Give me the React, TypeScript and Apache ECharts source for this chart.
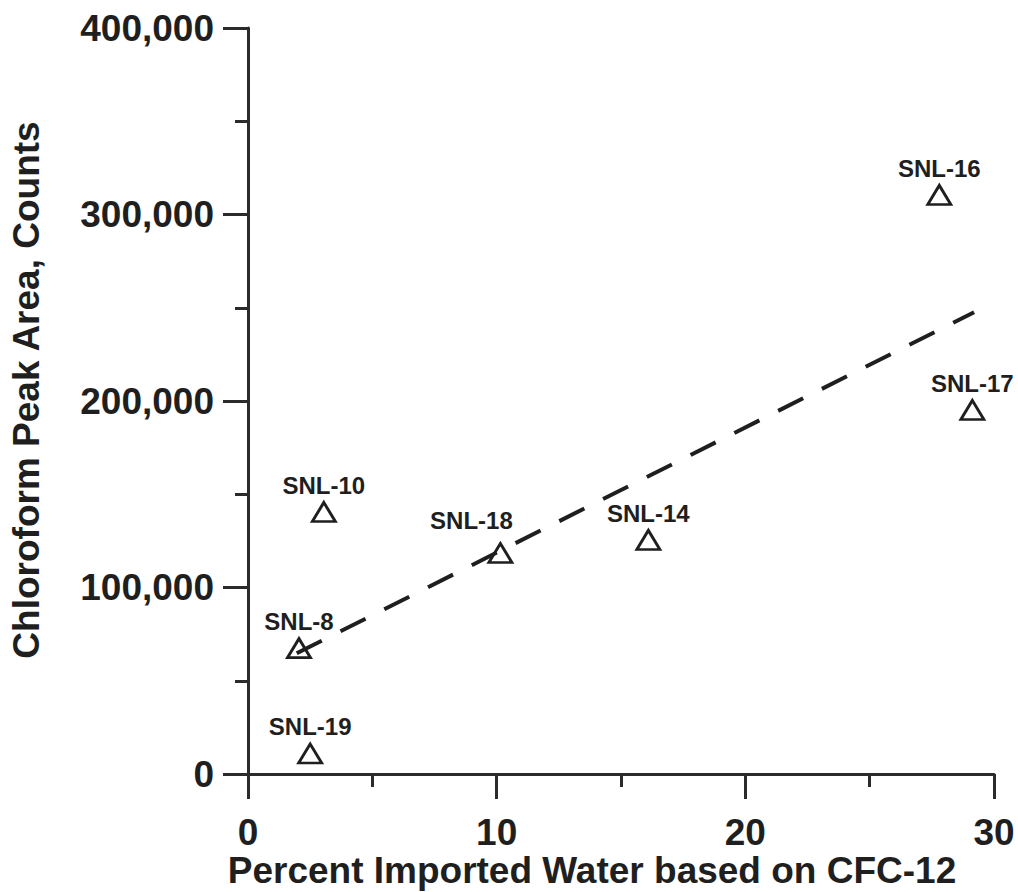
import React, { useEffect, useRef } from "react";
import * as echarts from "echarts";

// ---- data ----
const sampleNames = ["SNL-19", "SNL-8", "SNL-10", "SNL-18", "SNL-14", "SNL-16", "SNL-17"];
const importedWaterPct = [2.5, 2.05, 3.05, 10.15, 16.1, 27.8, 29.13];
const chloroformCounts = [11000, 67500, 140500, 118500, 125500, 310500, 195200];
const trendX = [1.96, 29.2];
const trendY = [64700, 247600];
const xTickValues = [0, 10, 20, 30];
const xTickLabels = ["0", "10", "20", "30"];
const yTickValues = [0, 100000, 200000, 300000, 400000];
const yTickLabels = ["0", "100,000", "200,000", "300,000", "400,000"];

const labelOffsets: Record<string, number[]> = { "SNL-18": [-29, -6] };

const FONT = "'Liberation Sans', Arial, Helvetica, sans-serif";
const INK = "#1f1f1f";
const LINE = "#2b2b2b";

export default function App() {
  const ref = useRef<HTMLDivElement>(null);
  useEffect(() => {
    if (!ref.current) return;
    const chart = echarts.init(ref.current, undefined, { renderer: "svg" });
    const lookup = (vals: number[], labels: string[]) => (v: number) => {
      const i = vals.indexOf(v);
      return i >= 0 ? labels[i] : "";
    };
    const scatterData = sampleNames.map((n, i) => {
      const item: any = { name: n, value: [importedWaterPct[i], chloroformCounts[i]] };
      if (labelOffsets[n]) item.label = { offset: labelOffsets[n] };
      return item;
    });
    const trendData = trendX.map((x, i) => [x, trendY[i]]);
    const tickStyle = { color: LINE, width: 3 };
    const option: any = {
      animation: false,
      backgroundColor: "#ffffff",
      grid: { left: 248, right: 24, top: 28, bottom: 118, containLabel: false, outerBoundsMode: "none" },
      xAxis: {
        type: "value",
        min: 0,
        max: 30,
        interval: 10,
        name: "Percent Imported Water based on CFC-12",
        nameLocation: "middle",
        nameGap: 78,
        nameMoveOverlap: false,
        nameTextStyle: { fontSize: 37, fontWeight: "bold", fontFamily: FONT, color: INK, padding: [0, 58, 0, 0] },
        axisLine: { show: true, onZero: false, lineStyle: { color: LINE, width: 3 } },
        axisTick: { show: true, length: 25, lineStyle: tickStyle },
        minorTick: { show: true, splitNumber: 2, length: 13, lineStyle: tickStyle },
        splitLine: { show: false },
        minorSplitLine: { show: false },
        axisLabel: {
          margin: 40,
          fontSize: 37,
          fontWeight: "bold",
          fontFamily: FONT,
          color: INK,
          showMinLabel: true,
          showMaxLabel: true,
          formatter: lookup(xTickValues, xTickLabels),
        },
      },
      yAxis: {
        type: "value",
        min: 0,
        max: 400000,
        interval: 100000,
        name: "Chloroform Peak Area, Counts",
        nameLocation: "middle",
        nameGap: 203,
        nameMoveOverlap: false,
        nameTextStyle: { fontSize: 37, fontWeight: "bold", fontFamily: FONT, color: INK, padding: [0, 0, 0, 22] },
        axisLine: { show: true, onZero: false, lineStyle: { color: LINE, width: 3 } },
        axisTick: { show: true, length: 25, lineStyle: tickStyle },
        minorTick: { show: true, splitNumber: 2, length: 13, lineStyle: tickStyle },
        splitLine: { show: false },
        minorSplitLine: { show: false },
        axisLabel: {
          margin: 34,
          fontSize: 37,
          fontWeight: "bold",
          fontFamily: FONT,
          color: INK,
          showMinLabel: true,
          showMaxLabel: true,
          formatter: lookup(yTickValues, yTickLabels),
        },
      },
      series: [
        {
          type: "scatter",
          name: "Samples",
          symbol: "triangle",
          symbolSize: [23, 19],
          z: 2,
          itemStyle: { color: "#ffffff", borderColor: INK, borderWidth: 2.8, opacity: 1 },
          label: {
            show: true,
            position: "top",
            distance: 4,
            formatter: "{b}",
            fontSize: 24,
            fontWeight: "bold",
            fontFamily: FONT,
            color: INK,
            opacity: 1,
            textBorderWidth: 0,
          },
          data: scatterData,
        },
        {
          type: "line",
          name: "Trend",
          showSymbol: false,
          symbol: "none",
          z: 3,
          lineStyle: { color: INK, width: 4, type: [28, 21], cap: "butt", opacity: 1 },
          data: trendData,
        },
      ],
    };
    chart.setOption(option);
    return () => chart.dispose();
  }, []);
  return (
    <div
      ref={ref}
      style={{ position: "fixed", left: 0, top: 0, width: 1018, height: 892, background: "#fff" }}
    />
  );
}
